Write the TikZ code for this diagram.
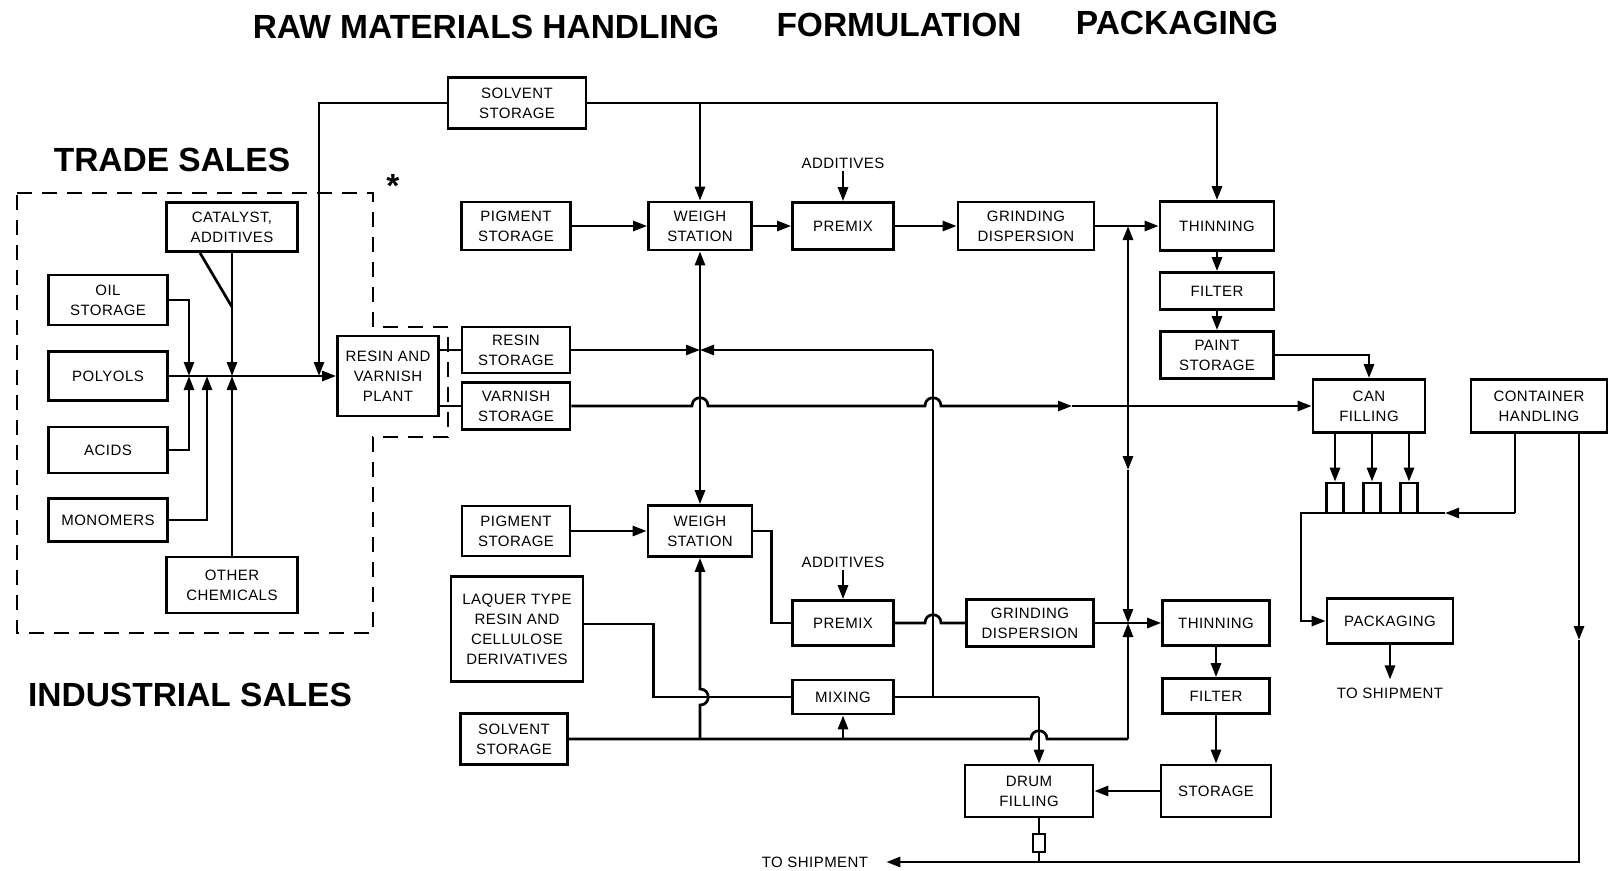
\documentclass[tikz,border=0pt]{standalone}
\usepackage{fontspec}
\setmainfont{Liberation Sans}
\newfontfamily\boxfont{Liberation Sans}[LetterSpace=3]
\usetikzlibrary{arrows.meta}
\newcommand{\boxtext}{\boxfont\fontsize{15pt}{20pt}\selectfont}
\newcommand{\headtext}{\bfseries\fontsize{33.5pt}{38pt}\selectfont}

\begin{document}
\begin{tikzpicture}[x=1pt, y=-1pt,
    block/.style 2 args={draw, line width=2.7pt, align=center, inner sep=0pt, minimum width=#1, minimum height=#2, font=\boxtext},
    tagtext/.style={font=\boxtext, inner sep=2pt},
    heading/.style={font=\headtext, inner sep=0pt},
    pipe/.style={line width=2.7pt},
    flow/.style={pipe, -{Triangle[length=14pt, width=10pt]}},
    hopup/.style={insert path={.. controls +(0,-11) and +(0,-11) .. ++(16,0)}},
    hopright/.style={insert path={.. controls +(11,0) and +(11,0) .. ++(0,-16)}}
]
    \useasboundingbox (0,0) rectangle (1608,870);

    % Headings
    \node[heading] (hraw) at (486,27) {RAW MATERIALS HANDLING};
    \node[heading] (hform) at (899,25) {FORMULATION};
    \node[heading] (hpack) at (1177,23) {PACKAGING};
    \node[heading] (htrade) at (172,160) {TRADE SALES};
    \node[heading] (hind) at (190,695) {INDUSTRIAL SALES};
    \node[heading] (hstar) at (393,186) {*};

    % Raw materials
    \node[block={131pt}{49pt}] (catalyst) at (232,227) {CATALYST,\\ADDITIVES};
    \node[block={119pt}{50pt}] (oil) at (108,300) {OIL\\STORAGE};
    \node[block={119pt}{49pt}] (polyols) at (108,376) {POLYOLS};
    \node[block={119pt}{46pt}] (acids) at (108,450) {ACIDS};
    \node[block={119pt}{43pt}] (monomers) at (108,520) {MONOMERS};
    \node[block={131pt}{56pt}] (other) at (232,585) {OTHER\\CHEMICALS};
    \node[block={101pt}{80pt}] (plant) at (388,376) {RESIN AND\\VARNISH\\PLANT};
    \node[block={138pt}{51pt}] (solventA) at (517,103) {SOLVENT\\STORAGE};
    \node[block={108pt}{46pt}] (resinst) at (516,350) {RESIN\\STORAGE};
    \node[block={108pt}{47pt}] (varnishst) at (516,406) {VARNISH\\STORAGE};

    % Formulation, trade line
    \node[block={109pt}{48pt}] (pigmentA) at (516,226) {PIGMENT\\STORAGE};
    \node[block={103pt}{48pt}] (weighA) at (700,226) {WEIGH\\STATION};
    \node[block={101pt}{47pt}] (premixA) at (843,226) {PREMIX};
    \node[block={136pt}{48pt}] (grindA) at (1026,226) {GRINDING\\DISPERSION};
    \node[block={114pt}{49pt}] (thinA) at (1217,226) {THINNING};
    \node[block={114pt}{37pt}] (filterA) at (1217,291) {FILTER};
    \node[block={113pt}{47pt}] (paintst) at (1217,355) {PAINT\\STORAGE};
    \node[tagtext] (addA) at (843,163) {ADDITIVES};

    % Formulation, industrial line
    \node[block={108pt}{50pt}] (pigmentB) at (516,531) {PIGMENT\\STORAGE};
    \node[block={104pt}{51pt}] (weighB) at (700,531) {WEIGH\\STATION};
    \node[block={132pt}{105pt}] (laquer) at (517,629) {LAQUER TYPE\\RESIN AND\\CELLULOSE\\DERIVATIVES};
    \node[block={107pt}{51pt}] (solventB) at (514,739) {SOLVENT\\STORAGE};
    \node[block={101pt}{45pt}] (premixB) at (843,623) {PREMIX};
    \node[block={101pt}{34pt}] (mixing) at (843,697) {MIXING};
    \node[block={127pt}{47pt}] (grindB) at (1030,623) {GRINDING\\DISPERSION};
    \node[block={107pt}{45pt}] (thinB) at (1216,623) {THINNING};
    \node[block={107pt}{35pt}] (filterB) at (1216,696) {FILTER};
    \node[block={110pt}{52pt}] (storage) at (1216,791) {STORAGE};
    \node[block={128pt}{52pt}] (drum) at (1029,791) {DRUM\\FILLING};
    \node[block={12pt}{18pt}] (drumcan) at (1039,843) {};
    \node[tagtext] (addB) at (843,562) {ADDITIVES};

    % Packaging
    \node[block={112pt}{53pt}] (canfill) at (1369,406) {CAN\\FILLING};
    \node[block={136pt}{53pt}] (container) at (1539,406) {CONTAINER\\HANDLING};
    \node[block={17pt}{30pt}] (canA) at (1335,498) {};
    \node[block={17pt}{30pt}] (canB) at (1372,498) {};
    \node[block={17pt}{30pt}] (canC) at (1409,498) {};
    \node[block={126pt}{45pt}] (packaging) at (1390,621) {PACKAGING};
    \node[tagtext] (shipA) at (1390,693) {TO SHIPMENT};
    \node[tagtext] (shipB) at (815,862) {TO SHIPMENT};

    % Junctions
    \coordinate (solvj) at (319,376);
    \coordinate (oilj) at (189,376);
    \coordinate (monj) at (207,376);
    \coordinate (catj) at (232,376);
    \coordinate (catd) at (232,307);
    \coordinate (resj) at (700,350);
    \coordinate (resr) at (933,350);
    \coordinate (mixj) at (933,697);
    \coordinate (varmid) at (1072,406);
    \coordinate (varj) at (1128,406);
    \coordinate (vardown) at (1128,470);
    \coordinate (sbj) at (700,739);
    \coordinate (sbend) at (1128,739);
    \coordinate (drumj) at (1039,697);
    \coordinate (conj) at (1515,513);
    \coordinate (canmid) at (1445,513);
    \coordinate (canline) at (1301,513);
    \coordinate (shipmid) at (1579,640);
    \coordinate (shipc) at (1579,862);

    % Trade sales boundary
    \draw[line width=2.2pt, dash pattern=on 15pt off 10pt] (17,193) -- (373,193) -- (373,327) -- (448,327) -- (448,437) -- (373,437) -- (373,633) -- (17,633) -- cycle;

    % Raw materials connections
    \draw[flow] (oil.east) -| (oilj);
    \draw[flow] (acids.east) -| (oilj);
    \draw[flow] (monomers.east) -| (monj);
    \draw[flow] (catalyst.south) -- (catj);
    \draw[pipe] ([xshift=-32pt]catalyst.south) -- (catd);
    \draw[flow] (other.north) -- (catj);
    \draw[flow] (polyols.east) -- (plant.west);
    \draw[flow] (solventA.west) -| (solvj);
    \draw[pipe] (plant.east |- resinst.west) -- (resinst.west);
    \draw[pipe] (plant.east |- varnishst.west) -- (varnishst.west);

    % Trade line
    \draw[flow] (solventA.east) -| (thinA.north);
    \draw[flow] (weighA.north |- solventA.east) -- (weighA.north);
    \draw[flow] (pigmentA.east) -- (weighA.west);
    \draw[flow] (weighA.east) -- (premixA.west);
    \draw[flow] (addA) -- (premixA.north);
    \draw[flow] (premixA.east) -- (grindA.west);
    \draw[flow] (grindA.east) -- (thinA.west);
    \draw[flow] (thinA.south) -- (filterA.north);
    \draw[flow] (filterA.south) -- (paintst.north);
    \draw[flow] (paintst.east) -| (canfill.north);

    % Resin and varnish feeds
    \draw[flow] (resinst.east) -- (resj);
    \draw[flow] (resr) -- (resj);
    \draw[pipe] (resr) -- (mixj);
    \draw[flow] (resj) -- (weighA.south);
    \draw[flow] (resj) -- (weighB.north);
    \draw[flow] (varnishst.east) -- (692,406) [hopup] -- (925,406) [hopup] -- (varmid);
    \draw[flow] (varmid) -- (canfill.west);
    \draw[flow] (varj) -- (varj |- grindA.east);
    \draw[flow] (varj) -- (vardown);
    \draw[flow] (vardown) -- (varj |- grindB.east);

    % Industrial line
    \draw[flow] (pigmentB.east) -- (weighB.west);
    \draw[pipe] (weighB.east) -- ++(18,0) |- (premixB.west);
    \draw[flow] (addB) -- (premixB.north);
    \draw[pipe] (premixB.east) -- (925,623) [hopup] -- (grindB.west);
    \draw[flow] (grindB.east) -- (thinB.west);
    \draw[flow] (thinB.south) -- (filterB.north);
    \draw[flow] (filterB.south) -- (storage.north);
    \draw[flow] (storage.west) -- (drum.east);
    \draw[pipe] ([yshift=5pt]laquer.east) -- ++(69,0) |- (mixing.west);
    \draw[pipe] (solventB.east) -- (1031,739) [hopup] -- (sbend);
    \draw[flow] (sbend) -- (sbend |- grindB.east);
    \draw[flow] (sbj) -- (700,705) [hopright] -- (weighB.south);
    \draw[flow] (mixing.south |- solventB.east) -- (mixing.south);
    \draw[pipe] (mixing.east) -- (drumj);
    \draw[flow] (drumj) -- (drumj |- drum.north);
    \draw[pipe] (drumcan.north |- drum.south) -- (drumcan.north);
    \draw[pipe] (drumcan.south) -- (drumcan |- shipc);

    % Packaging connections
    \draw[flow] (canA |- canfill.south) -- (canA.north);
    \draw[flow] (canB |- canfill.south) -- (canB.north);
    \draw[flow] (canC |- canfill.south) -- (canC.north);
    \draw[pipe] (container.south -| conj) -- (conj);
    \draw[flow] (conj) -- (canmid);
    \draw[flow] (canmid) -- (canline) |- (packaging.west);
    \draw[flow, shorten >=6pt] (packaging.south) -- (shipA.north);
    \draw[flow] (container.south -| shipc) -- (shipmid);
    \draw[flow] (shipmid) -- (shipc) -- ([xshift=16pt]shipB.east);
\end{tikzpicture}
\end{document}
